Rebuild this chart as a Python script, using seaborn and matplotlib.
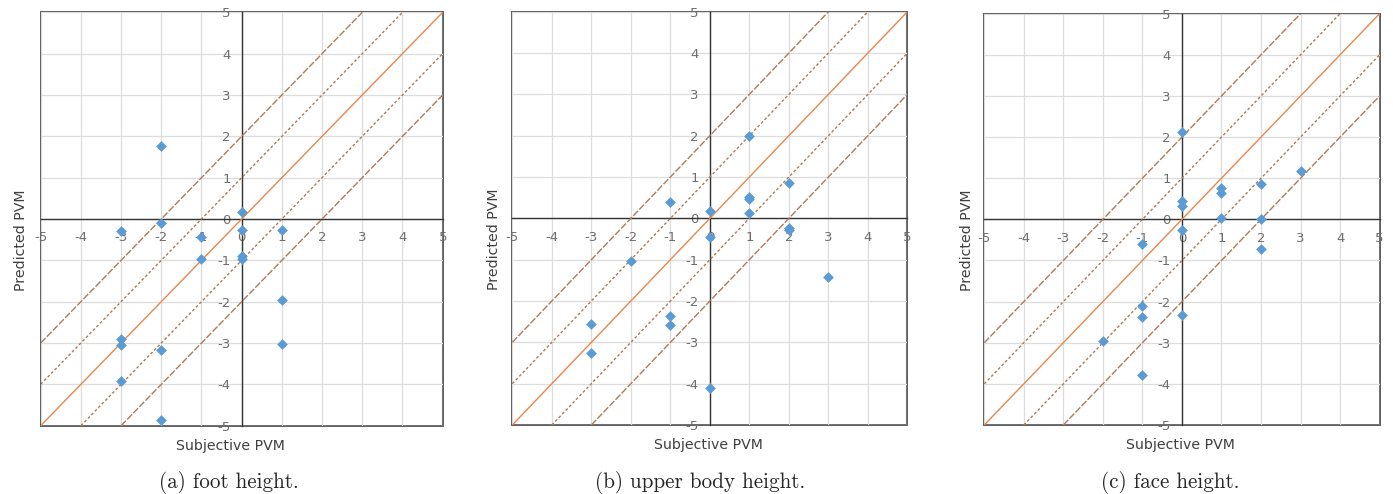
import matplotlib
matplotlib.use("Agg")
import matplotlib.pyplot as plt
import seaborn as sns
import pandas as pd

# ---- data ----
foot_x = [-2, 0, -3, -2, -1, 0, 1, -1, 0, 0, 1, -3, -3, -2, 1, -3, -2]
foot_y = [1.76, 0.16, -0.30, -0.10, -0.44, -0.27, -0.27, -0.97, -0.89, -0.96,
          -1.96, -2.91, -3.06, -3.16, -3.02, -3.93, -4.87]

upper_x = [1, 2, 1, 1, -1, 0, 1, 2, 2, 0, -2, 3, -1, -3, -1, -3, 0]
upper_y = [2.0, 0.85, 0.52, 0.46, 0.40, 0.17, 0.13, -0.23, -0.27, -0.46,
           -1.02, -1.42, -2.36, -2.56, -2.59, -3.25, -4.10]

face_x = [0, 3, 2, 1, 1, 0, 0, 1, 2, 0, -1, 2, -1, -1, 0, -2, -1]
face_y = [2.13, 1.17, 0.87, 0.77, 0.64, 0.45, 0.32, 0.03, 0.01, -0.27,
          -0.59, -0.72, -2.11, -2.37, -2.33, -2.97, -3.79]

captions = ["(a) foot height.", "(b) upper body height.", "(c) face height."]
x_label = "Subjective PVM"
y_label = "Predicted PVM"
ticks = [-5, -4, -3, -2, -1, 0, 1, 2, 3, 4, 5]
offsets = [-2, -1, 0, 1, 2]

sns.set_style("white")
plt.rcParams['font.family'] = ['DejaVu Sans']

fig = plt.figure(figsize=(13.93, 4.94), dpi=100)

# axes boxes in figure fraction [left, bottom, width, height]
boxes = [
    [0.0292, 0.1383, 0.2886, 0.8368],
    [0.3678, 0.1397, 0.2836, 0.8366],
    [0.7066, 0.1397, 0.2838, 0.8326],
]
ylab_x = [-0.049, -0.046, -0.043]
xlab_x = [0.472, 0.496, 0.497]
cap_x = [0.1642, 0.5025, 0.8404]

datasets = [(foot_x, foot_y), (upper_x, upper_y), (face_x, face_y)]

line_col = "#B07A56"
solid_col = "#E8874B"
pt_col = "#5B9BD5"
grid_col = "#DDDDDD"
axis_col = "#333333"
frame_col = "#5E5E5E"
tick_col = "#6E6E6E"

for i, (xs, ys) in enumerate(datasets):
    ax = fig.add_axes(boxes[i])
    df = pd.DataFrame({"x": xs, "y": ys})
    ax.set_xlim(-5, 5)
    ax.set_ylim(-5, 5)
    ax.set_xticks(ticks)
    ax.set_yticks(ticks)
    ax.set_xticklabels([str(t) for t in ticks])
    ax.set_yticklabels([str(t) for t in ticks])
    ax.grid(True, color=grid_col, linewidth=0.9, zorder=0)
    ax.set_axisbelow(True)

    # reference lines
    for k in offsets:
        if k == 0:
            ax.axline((0, k), slope=1, color=solid_col, lw=1.0, zorder=2)
        elif abs(k) == 1:
            ax.axline((0, k), slope=1, color=line_col, lw=1.0,
                      dashes=(2, 1.6), zorder=2)
        else:
            ax.axline((0, k), slope=1, color=line_col, lw=1.0,
                      dashes=(5, 1.3), zorder=2)

    sns.scatterplot(data=df, x="x", y="y", ax=ax, marker="D", s=30,
                    color=pt_col, linewidth=0, zorder=3)

    # Excel-like axes crossing at zero
    ax.spines['left'].set_position('zero')
    ax.spines['bottom'].set_position('zero')
    for s in ['left', 'bottom']:
        ax.spines[s].set_color(axis_col)
        ax.spines[s].set_linewidth(1.0)
        ax.spines[s].set_zorder(1.5)
    for s in ['top', 'right']:
        ax.spines[s].set_visible(False)
    ax.patch.set_edgecolor(frame_col)
    ax.patch.set_linewidth(1.4)

    ax.tick_params(axis='x', length=0, pad=9, labelsize=9.5, labelcolor=tick_col)
    ax.tick_params(axis='y', length=0, pad=8, labelsize=9.5, labelcolor=tick_col)
    for lab in ax.get_xticklabels() + ax.get_yticklabels():
        lab.set_zorder(1)

    ax.set_xlabel(x_label, fontsize=10.2, color="#404040")
    ax.set_ylabel(y_label, fontsize=10.2, color="#404040")
    ax.xaxis.set_label_coords(xlab_x[i], -0.048)
    ax.yaxis.set_label_coords(ylab_x[i], 0.449)
    ax.xaxis.label.set_va('center')
    ax.yaxis.label.set_va('center')

    fig.text(cap_x[i], 0.0237, captions[i], ha='center', va='center',
             fontsize=15.2, family=['cmr10', 'DejaVu Serif'])

fig.savefig("out.png", dpi=100)
